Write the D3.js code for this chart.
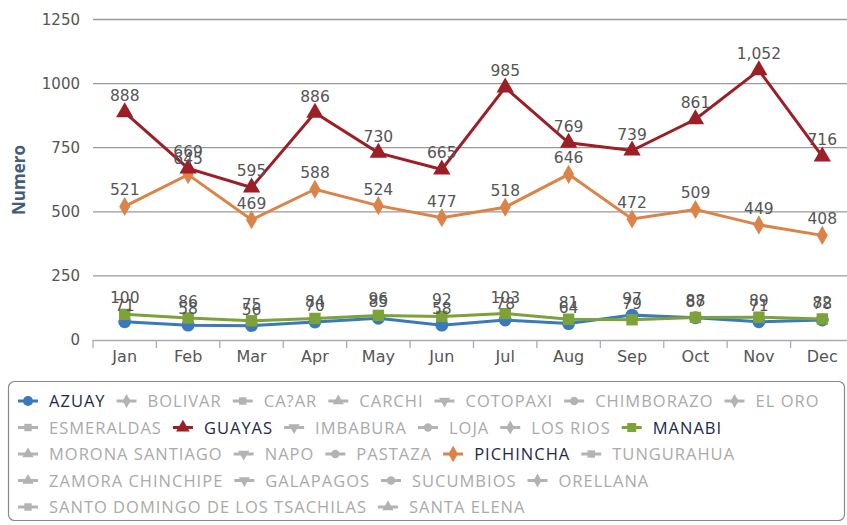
<!DOCTYPE html>
<html>
<head>
<meta charset="utf-8">
<script src="https://cdn.jsdelivr.net/npm/d3@7"></script>
<style>
  body { margin: 0; background: #fff; }
  svg { display: block; }
</style>
</head>
<body>
<svg width="847" height="525"></svg>
<script>
var months = ['Jan', 'Feb', 'Mar', 'Apr', 'May', 'Jun', 'Jul', 'Aug', 'Sep', 'Oct', 'Nov', 'Dec'];
var yTicks = [0, 250, 500, 750, 1000, 1250];

var azuay = [71, 58, 56, 70, 85, 58, 78, 64, 97, 87, 71, 78];
var guayas = [888, 669, 595, 886, 730, 665, 985, 769, 739, 861, 1052, 716];
var manabi = [100, 86, 75, 84, 96, 92, 103, 81, 79, 88, 89, 82];
var pichincha = [521, 645, 469, 588, 524, 477, 518, 646, 472, 509, 449, 408];

var provinces = ['AZUAY', 'BOLIVAR', 'CA?AR', 'CARCHI', 'COTOPAXI', 'CHIMBORAZO', 'EL ORO',
  'ESMERALDAS', 'GUAYAS', 'IMBABURA', 'LOJA', 'LOS RIOS', 'MANABI',
  'MORONA SANTIAGO', 'NAPO', 'PASTAZA', 'PICHINCHA', 'TUNGURAHUA',
  'ZAMORA CHINCHIPE', 'GALAPAGOS', 'SUCUMBIOS', 'ORELLANA',
  'SANTO DOMINGO DE LOS TSACHILAS', 'SANTA ELENA'];

var symbols = [d3.symbolCircle, d3.symbolDiamond, d3.symbolSquare, d3.symbolTriangle, 'down'];

var series = [
  { name: 'PICHINCHA', values: pichincha, color: '#dc8349' },
  { name: 'GUAYAS', values: guayas, color: '#9c1e26' },
  { name: 'AZUAY', values: azuay, color: '#3b79bd' },
  { name: 'MANABI', values: manabi, color: '#7da23a' }
];

var svg = d3.select('svg');

var x = d3.scaleBand()
  .range([93, 854])
  .domain(months);

var y = d3.scaleLinear()
  .range([340, 19.5])
  .domain([0, 1250]);

function symbolPath(i, size) {
  var s = symbols[i % 5];
  if (s === 'down') {
    return d3.symbol().type(d3.symbolTriangle).size(size)();
  }
  return d3.symbol().type(s).size(size)();
}
function symbolRotate(i) {
  return symbols[i % 5] === 'down' ? ' rotate(180)' : '';
}

// grid + y labels
svg.append('g').selectAll('line')
  .data(yTicks.slice(1))
  .enter().append('line')
  .attr('x1', 93).attr('x2', 847)
  .attr('y1', function(d) { return y(d); })
  .attr('y2', function(d) { return y(d); })
  .attr('stroke', '#9a9a9a')
  .attr('stroke-width', 1.3);

svg.append('g').selectAll('text')
  .data(yTicks)
  .enter().append('text')
  .attr('x', 80)
  .attr('y', function(d) { return y(d) + 5; })
  .attr('text-anchor', 'end')
  .attr('font-family', 'DejaVu Sans')
  .attr('font-size', 15)
  .attr('fill', '#555')
  .text(function(d) { return d; });

svg.append('text')
  .attr('transform', 'translate(25,180) rotate(-90)')
  .attr('text-anchor', 'middle')
  .attr('font-family', 'Open Sans')
  .attr('font-weight', 'bold')
  .attr('font-size', 17)
  .attr('fill', '#3f5d7e')
  .text('Numero');

// x axis
var xAxis = svg.append('g');
xAxis.append('line')
  .attr('x1', 93).attr('x2', 847)
  .attr('y1', 340.5).attr('y2', 340.5)
  .attr('stroke', '#aab')
  .attr('stroke-width', 1.3);
xAxis.selectAll('line.tick')
  .data(months)
  .enter().append('line')
  .attr('class', 'tick')
  .attr('x1', function(d) { return x(d); })
  .attr('x2', function(d) { return x(d); })
  .attr('y1', 340).attr('y2', 348)
  .attr('stroke', '#aab')
  .attr('stroke-width', 1.3);
xAxis.selectAll('text')
  .data(months)
  .enter().append('text')
  .attr('x', function(d) { return x(d) + x.bandwidth() / 2; })
  .attr('y', 362)
  .attr('text-anchor', 'middle')
  .attr('font-family', 'DejaVu Sans')
  .attr('font-size', 16)
  .attr('fill', '#555')
  .text(function(d) { return d; });

// series
var line = d3.line()
  .x(function(d, i) { return x(months[i]) + x.bandwidth() / 2; })
  .y(function(d) { return y(d); });

series.forEach(function(s) {
  var idx = provinces.indexOf(s.name);
  var g = svg.append('g');
  g.append('path')
    .attr('d', line(s.values))
    .attr('fill', 'none')
    .attr('stroke', s.color)
    .attr('stroke-width', 3);
  g.selectAll('path.m')
    .data(s.values)
    .enter().append('path')
    .attr('class', 'm')
    .attr('d', symbolPath(idx, s.name === 'PICHINCHA' ? 105 : 130))
    .attr('transform', function(d, i) {
      return 'translate(' + (x(months[i]) + x.bandwidth() / 2) + ',' + y(d) + ')' + symbolRotate(idx);
    })
    .attr('fill', s.color);
});

series.forEach(function(s) {
  svg.append('g').selectAll('text')
    .data(s.values)
    .enter().append('text')
    .attr('x', function(d, i) { return x(months[i]) + x.bandwidth() / 2; })
    .attr('y', function(d) { return y(d) - 11; })
    .attr('text-anchor', 'middle')
    .attr('font-family', 'DejaVu Sans')
    .attr('font-size', 15.5)
    .attr('fill', '#555')
    .text(function(d) { return d3.format(',')(d); });
});

// legend
var active = {};
series.forEach(function(s) { active[s.name] = s.color; });

svg.append('rect')
  .attr('x', 8.5).attr('y', 381.5)
  .attr('width', 836).attr('height', 139)
  .attr('rx', 6)
  .attr('fill', '#fff')
  .attr('stroke', '#888')
  .attr('stroke-width', 1.2);

var legend = svg.append('g');
var lx = 18, row = 0, maxX = 838;
provinces.forEach(function(name, i) {
  var item = legend.append('g');
  var col = active[name] || '#b3b3b3';
  var txt = item.append('text')
    .attr('x', 31)
    .attr('y', 6)
    .attr('font-family', 'Open Sans')
    .attr('font-size', 16.5)
    .attr('letter-spacing', 1)
    .attr('fill', active[name] ? '#1b2a4a' : '#aaa')
    .text(name);
  var w = 31 + txt.node().getComputedTextLength();
  if (lx + w > maxX) { row++; lx = 18; }
  item.attr('transform', 'translate(' + lx + ',' + (401 + row * 26.5) + ')');
  item.append('line')
    .attr('x1', 0).attr('x2', 20)
    .attr('y1', 0).attr('y2', 0)
    .attr('stroke', col)
    .attr('stroke-width', 3);
  item.append('path')
    .attr('d', symbolPath(i, active[name] ? 80 : 55))
    .attr('transform', 'translate(10,0)' + symbolRotate(i))
    .attr('fill', col);
  lx += w + 11;
});
</script>
</body>
</html>
